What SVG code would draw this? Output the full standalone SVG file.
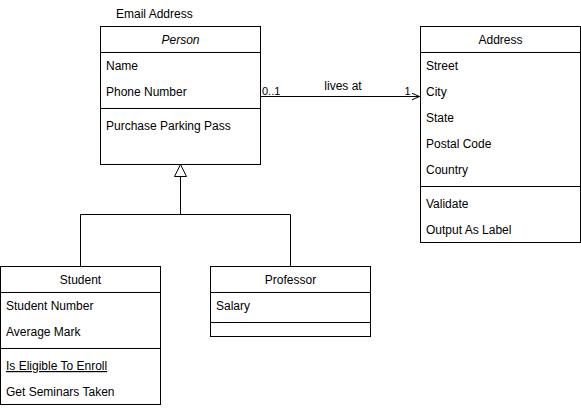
<svg xmlns="http://www.w3.org/2000/svg" width="581" height="408" viewBox="0 0 581 408">
<style>
.box{fill:#fff;stroke:#000;stroke-width:1}
.ln{stroke:#000;stroke-width:1;fill:none}
text{font-family:"Liberation Sans",Arial,Helvetica,sans-serif;font-size:12px;fill:#000}
.c{text-anchor:middle}
.m{font-size:11px}
</style>
<defs>
<marker id="open" markerWidth="10" markerHeight="10" refX="8" refY="4" orient="auto" markerUnits="userSpaceOnUse">
<path d="M0,0.5 L8,4 L0,7.5" fill="none" stroke="#000" stroke-width="1"/>
</marker>
</defs>
<rect width="581" height="408" fill="#fff"/>
<g id="connectors">
<path class="ln" d="M180.5,176 V214.5 H80.5 V266"/>
<path class="ln" d="M180.5,214.5 H290.5 V266"/>
<path d="M180.5,164.5 L186.5,176.5 L174.5,176.5 Z" fill="#fff" stroke="#000"/>
<path class="ln" d="M260,96.5 H419.5" marker-end="url(#open)"/>
<text x="262" y="95" class="m">0..1</text>
<text x="343" y="90" class="c">lives at</text>
<text x="404.5" y="95" class="m">1</text>
</g>
<g id="email">
<text x="116" y="18">Email Address</text>
</g>
<g id="person">
<rect class="box" x="100.5" y="26.5" width="160" height="138"/>
<path class="ln" d="M100.5,52.5 H260.5 M100.5,108.5 H260.5"/>
<text x="180.5" y="44" class="c" font-style="italic">Person</text>
<text x="106" y="70">Name</text>
<text x="106" y="96">Phone Number</text>
<text x="106" y="130">Purchase Parking Pass</text>
</g>
<g id="address">
<rect class="box" x="420.5" y="26.5" width="160" height="216"/>
<path class="ln" d="M420.5,52.5 H580.5 M420.5,186.5 H580.5"/>
<text x="500.5" y="44" class="c">Address</text>
<text x="426" y="70">Street</text>
<text x="426" y="96">City</text>
<text x="426" y="122">State</text>
<text x="426" y="148">Postal Code</text>
<text x="426" y="174">Country</text>
<text x="426" y="208">Validate</text>
<text x="426" y="234">Output As Label</text>
</g>
<g id="student">
<rect class="box" x="0.5" y="266.5" width="160" height="138"/>
<path class="ln" d="M0.5,292.5 H160.5 M0.5,348.5 H160.5"/>
<text x="80.5" y="284" class="c">Student</text>
<text x="6" y="310">Student Number</text>
<text x="6" y="336">Average Mark</text>
<text x="6" y="370" text-decoration="underline">Is Eligible To Enroll</text>
<text x="6" y="396">Get Seminars Taken</text>
</g>
<g id="professor">
<rect class="box" x="210.5" y="266.5" width="160" height="70"/>
<path class="ln" d="M210.5,292.5 H370.5 M210.5,322.5 H370.5"/>
<text x="290.5" y="284" class="c">Professor</text>
<text x="216" y="310">Salary</text>
</g>
</svg>
